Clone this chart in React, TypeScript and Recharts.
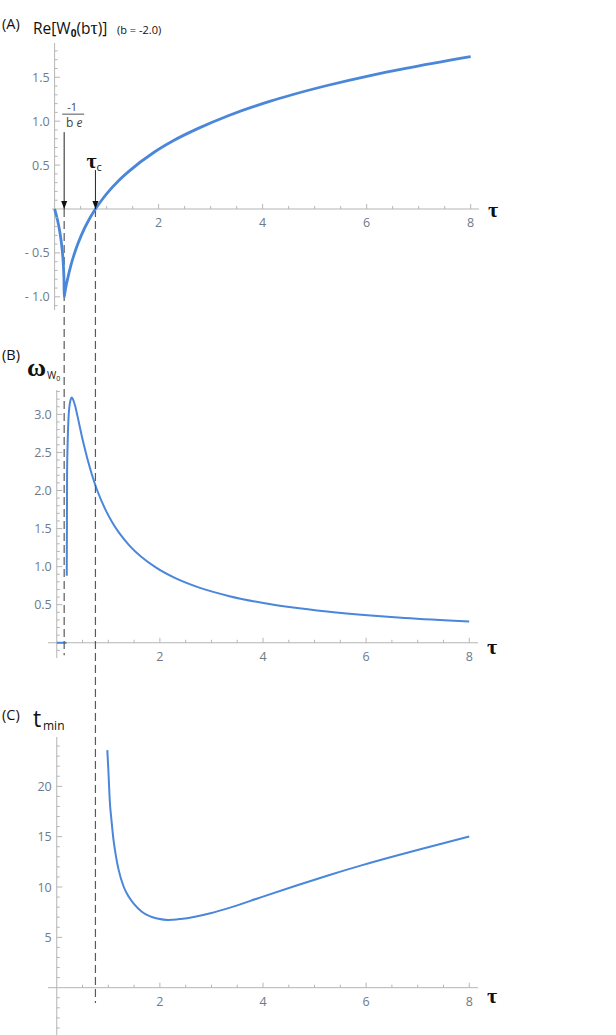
import React from "react";
import { LineChart, Line, XAxis, YAxis, ReferenceLine, ReferenceDot } from "recharts";

const BLUE = "#4a87da";
const AXIS = "#b5b5b5";
const TICK_LABEL = "#6d7b89";
const DASH = "#5a5a5a";
const SANS = "'Open Sans', 'Noto Sans', sans-serif";
const SERIF = "'Liberation Serif', 'DejaVu Serif', serif";

// (A) Re[W0(b tau)], b = -2.0
const tauA = [0, 0.03, 0.06, 0.09, 0.12, 0.15, 0.165, 0.175, 0.181, 0.184, 0.1925, 0.209, 0.228, 0.257, 0.313, 0.353, 0.404, 0.511, 0.676, 0.785, 0.944, 1.069, 1.221, 1.41, 1.92, 2.28, 2.75, 3.35, 4.15, 4.55, 5.24, 6.09, 6.75, 8.0];
const reW = [0, -0.064, -0.137, -0.226, -0.336, -0.489, -0.603, -0.716, -0.83, -1.0, -0.97, -0.915, -0.855, -0.777, -0.642, -0.56, -0.467, -0.303, -0.106, 0, 0.131, 0.221, 0.317, 0.42, 0.649, 0.777, 0.915, 1.065, 1.228, 1.298, 1.406, 1.522, 1.601, 1.735];

// (B) omega_W0
const tauB0 = [0, 0.19];
const omegaB0 = [0, 0];
const tauB = [0.194, 0.2, 0.21, 0.228, 0.256, 0.29, 0.3125, 0.353, 0.404, 0.511, 0.676, 0.785, 0.944, 1.069, 1.221, 1.41, 1.92, 2.28, 2.75, 3.35, 4.15, 4.55, 5.24, 6.09, 6.75, 8.0];
const omega = [0.88, 2.2, 2.6, 2.95, 3.15, 3.22, 3.2, 3.12, 2.97, 2.64, 2.22, 2.0, 1.749, 1.59, 1.433, 1.277, 0.99, 0.855, 0.727, 0.612, 0.506, 0.466, 0.41, 0.358, 0.326, 0.279];

// (C) t_min
const tauC = [0.98, 1.0, 1.03, 1.06, 1.1, 1.15, 1.2, 1.3, 1.4, 1.5, 1.65, 1.8, 1.95, 2.16, 2.4, 2.68, 3.0, 3.33, 3.97, 4.62, 5.26, 5.91, 6.56, 7.2, 8.0];
const tmin = [23.6, 21.7, 18.4, 16.7, 14.7, 13.0, 11.7, 10.0, 9.0, 8.3, 7.55, 7.1, 6.87, 6.72, 6.82, 7.05, 7.42, 7.9, 9.0, 10.1, 11.15, 12.15, 13.08, 13.95, 15.02];

// marker positions
const TAU0 = 0.184; // -1/(b e)
const TAUC = 0.785;

const xMajor = [2, 4, 6, 8];
const xMajorLabels = ["2", "4", "6", "8"];
const yMajorA = [-1, -0.5, 0.5, 1, 1.5];
const yLabelsA = ["- 1.0", "- 0.5", "0.5", "1.0", "1.5"];
const yMajorB = [0.5, 1, 1.5, 2, 2.5, 3];
const yLabelsB = ["0.5", "1.0", "1.5", "2.0", "2.5", "3.0"];
const yMajorC = [5, 10, 15, 20];
const yLabelsC = ["5", "10", "15", "20"];

const range = (a: number, b: number, step: number) => {
  const out: number[] = [];
  for (let i = 0; a + i * step <= b + 1e-9; i++) out.push(+(a + i * step).toFixed(3));
  return out;
};

const zip = (xs: number[], ys: number[]) => xs.map((t, i) => ({ t, v: ys[i] }));

function axisMarks(
  key: string,
  xEnd: number,
  yMinor: number[],
  yMajor: number[],
  yLabels: string[],
  tauDy: number
) {
  const els: React.ReactNode[] = [];
  els.push(<ReferenceLine key={key + "-xa"} y={0} stroke={AXIS} strokeWidth={1} />);
  els.push(<ReferenceLine key={key + "-ya"} x={0} stroke={AXIS} strokeWidth={1} />);
  yMinor
    .filter((v) => v !== 0 && !yMajor.includes(v))
    .forEach((v) =>
      els.push(
        <ReferenceDot
          key={key + "-ym" + v}
          x={0}
          y={v}
          r={0}
          shape={(p: any) => <line x1={p.cx} y1={p.cy} x2={p.cx + 3} y2={p.cy} stroke={AXIS} />}
        />
      )
    );
  yMajor.forEach((v, i) =>
    els.push(
      <ReferenceDot
        key={key + "-yM" + v}
        x={0}
        y={v}
        r={0}
        shape={(p: any) => (
          <g>
            <line x1={p.cx} y1={p.cy} x2={p.cx + 5.5} y2={p.cy} stroke={AXIS} />
            <text x={p.cx - 5} y={p.cy + 4.5} textAnchor="end" fontFamily={SANS} fontSize={12.5} fill={TICK_LABEL}>
              {yLabels[i]}
            </text>
          </g>
        )}
      />
    )
  );
  range(0.5, 8, 0.5)
    .filter((v) => !xMajor.includes(v))
    .forEach((v) =>
      els.push(
        <ReferenceDot
          key={key + "-xm" + v}
          x={v}
          y={0}
          r={0}
          shape={(p: any) => <line x1={p.cx} y1={p.cy} x2={p.cx} y2={p.cy - 3} stroke={AXIS} />}
        />
      )
    );
  xMajor.forEach((v, i) =>
    els.push(
      <ReferenceDot
        key={key + "-xM" + v}
        x={v}
        y={0}
        r={0}
        shape={(p: any) => (
          <g>
            <line x1={p.cx} y1={p.cy} x2={p.cx} y2={p.cy - 5} stroke={AXIS} />
            <text x={p.cx} y={p.cy + 18} textAnchor="middle" fontFamily={SANS} fontSize={12.5} fill={TICK_LABEL}>
              {xMajorLabels[i]}
            </text>
          </g>
        )}
      />
    )
  );
  els.push(
    <ReferenceDot
      key={key + "-tau"}
      x={xEnd}
      y={0}
      r={0}
      shape={(p: any) => (
        <text x={p.cx + 9} y={p.cy + tauDy} fontFamily={SERIF} fontWeight="bold" fontSize={22} fill="#111">
          τ
        </text>
      )}
    />
  );
  return els;
}

function PanelA() {
  const X0 = -0.05;
  const X1 = 8.16;
  return (
    <LineChart width={616} height={1035} margin={{ top: 43, right: 137, bottom: 725, left: 52 }}>
      <XAxis type="number" dataKey="t" domain={[X0, X1]} allowDataOverflow hide />
      <YAxis type="number" domain={[-1.15, 1.89]} allowDataOverflow hide />
      {axisMarks("a", X1, range(-1.1, 1.8, 0.1), yMajorA, yLabelsA, 8)}
      <ReferenceLine
        segment={[{ x: TAU0, y: 0 }, { x: TAU0, y: -5.08 }]}
        stroke={DASH}
        strokeWidth={1.2}
        strokeDasharray="8 4"
        ifOverflow="visible"
      />
      <ReferenceLine
        segment={[{ x: TAUC, y: 0 }, { x: TAUC, y: -9.04 }]}
        stroke={DASH}
        strokeWidth={1.2}
        strokeDasharray="8 4"
        ifOverflow="visible"
      />
      <Line
        data={zip(tauA, reW)}
        dataKey="v"
        type="monotone"
        stroke={BLUE}
        strokeWidth={2.8}
        dot={false}
        isAnimationActive={false}
      />
      <ReferenceLine segment={[{ x: TAU0, y: 0.875 }, { x: TAU0, y: 0 }]} stroke="#222" strokeWidth={1} />
      <ReferenceLine segment={[{ x: TAUC, y: 0.443 }, { x: TAUC, y: 0 }]} stroke="#222" strokeWidth={1} />
      {[TAU0, TAUC].map((t) => (
        <ReferenceDot
          key={"head" + t}
          x={t}
          y={0}
          r={0}
          shape={(p: any) => (
            <polygon points={`${p.cx - 3},${p.cy - 8} ${p.cx + 3},${p.cy - 8} ${p.cx},${p.cy}`} fill="#111" />
          )}
        />
      ))}
      <ReferenceDot
        x={TAU0}
        y={0.875}
        r={0}
        shape={(p: any) => (
          <g fontFamily={SANS} fill="#444">
            <text x={p.cx + 8} y={p.cy - 21} textAnchor="middle" fontSize={11}>
              -1
            </text>
            <line x1={p.cx - 2} y1={p.cy - 18} x2={p.cx + 20} y2={p.cy - 18} stroke="#555" strokeWidth={1} />
            <text x={p.cx + 10} y={p.cy - 5} textAnchor="middle" fontSize={12}>
              b <tspan fontStyle="italic">e</tspan>
            </text>
          </g>
        )}
      />
      <ReferenceDot
        x={TAUC}
        y={0.443}
        r={0}
        shape={(p: any) => (
          <text x={p.cx - 9} y={p.cy - 2} fontFamily={SERIF} fontWeight="bold" fontSize={22} fill="#111">
            τ
            <tspan fontFamily={SANS} fontWeight="normal" fontSize={11} dy={3}>
              c
            </tspan>
          </text>
        )}
      />
    </LineChart>
  );
}

function PanelB() {
  const X0 = -0.17;
  const X1 = 8.17;
  return (
    <LineChart width={616} height={345} margin={{ top: 55, right: 138, bottom: 22, left: 48 }}>
      <XAxis type="number" dataKey="t" domain={[X0, X1]} allowDataOverflow hide />
      <YAxis type="number" domain={[-0.2, 3.32]} allowDataOverflow hide />
      {axisMarks("b", X1, range(-0.1, 3.3, 0.1), yMajorB, yLabelsB, 11)}
      <Line
        data={zip(tauB0, omegaB0)}
        dataKey="v"
        type="linear"
        stroke={BLUE}
        strokeWidth={2}
        dot={false}
        isAnimationActive={false}
      />
      <Line
        data={zip(tauB, omega)}
        dataKey="v"
        type="monotone"
        stroke={BLUE}
        strokeWidth={2}
        dot={false}
        isAnimationActive={false}
      />
    </LineChart>
  );
}

function PanelC() {
  const X0 = -0.17;
  const X1 = 8.17;
  return (
    <LineChart width={616} height={355} margin={{ top: 57, right: 138, bottom: 0, left: 48 }}>
      <XAxis type="number" dataKey="t" domain={[X0, X1]} allowDataOverflow hide />
      <YAxis type="number" domain={[-4.7, 24.9]} allowDataOverflow hide />
      {axisMarks("c", X1, range(-4, 24, 1), yMajorC, yLabelsC, 15)}
      <Line
        data={zip(tauC, tmin)}
        dataKey="v"
        type="monotone"
        stroke={BLUE}
        strokeWidth={2}
        dot={false}
        isAnimationActive={false}
      />
    </LineChart>
  );
}

export default function App() {
  return (
    <div style={{ position: "absolute", left: 0, top: 0, width: 616, height: 1035, background: "#fff", overflow: "hidden" }}>
      <div style={{ position: "absolute", left: 0, top: 335 }}>
        <PanelB />
      </div>
      <div style={{ position: "absolute", left: 0, top: 680 }}>
        <PanelC />
      </div>
      <div style={{ position: "absolute", left: 0, top: 0 }}>
        <PanelA />
      </div>
      <svg
        width={616}
        height={1035}
        style={{ position: "absolute", left: 0, top: 0, pointerEvents: "none" }}
      >
        <g fontFamily={SANS} fill="#111">
          <text x={2} y={29} fontSize={14.5}>(A)</text>
          <text x={33} y={34} fontSize={15.5}>
            Re[W<tspan fontWeight="bold" fontSize={10} dy={3}>0</tspan>
            <tspan dy={-3}>(b</tspan>
            <tspan fontFamily={SERIF} fontSize={18}>τ</tspan>
            <tspan>)]</tspan>
          </text>
          <text x={117} y={34} fontSize={11}>(b = -2.0)</text>

          <text x={2} y={360} fontSize={14.5}>(B)</text>
          <text x={27} y={376} fontFamily={SERIF} fontWeight="bold" fontSize={26}>ω</text>
          <text x={47} y={379} fontSize={10}>
            W<tspan fontSize={7} dy={1.5}>0</tspan>
          </text>

          <text x={2} y={720} fontSize={14.5}>(C)</text>
          <text x={33} y={727} fontSize={23}>t</text>
          <text x={43} y={730} fontSize={12}>min</text>
        </g>
      </svg>
    </div>
  );
}
